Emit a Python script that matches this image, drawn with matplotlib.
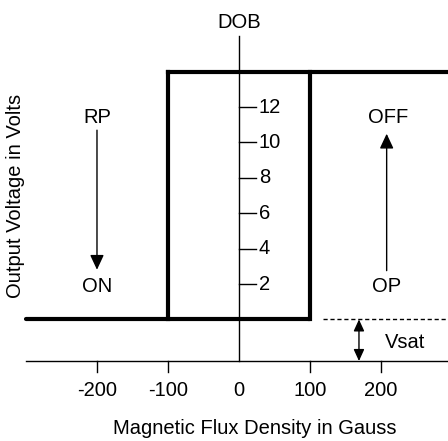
import matplotlib.pyplot as plt

plt.rcParams['font.family'] = ['Liberation Sans', 'DejaVu Sans']

# hysteresis loop (gauss, volts)
low_x = [-300, 100]
high_x = [-100, 300]
low_v = 0
high_v = 14
rp_x, op_x = -100, 100

# axis ticks
x_ticks = [-200, -100, 100, 200]
x_tick_labels = ['-200', '-100', '0', '100', '200']
x_label_pos = [-200, -100, 0, 100, 200]
y_ticks = [2, 4, 6, 8, 10, 12]

axis_v = -2.35
dob_top = 16.0
vsat_x = 169
fs = 14.5


def draw_loop(ax):
    lw = 3.0
    ax.plot(low_x, [low_v, low_v], color='black', lw=lw, solid_capstyle='round')
    ax.plot(high_x, [high_v, high_v], color='black', lw=lw, solid_capstyle='projecting')
    ax.plot([rp_x, rp_x], [low_v, high_v], color='black', lw=lw, solid_capstyle='projecting')
    ax.plot([op_x, op_x], [low_v, high_v], color='black', lw=lw, solid_capstyle='projecting')


def draw_axes(ax):
    # horizontal axis
    ax.plot([-300, 300], [axis_v, axis_v], color='black', lw=1.0)
    for t in x_ticks:
        ax.plot([t, t], [axis_v, axis_v - 0.6], color='black', lw=1.0)
    for x, lab in zip(x_label_pos, x_tick_labels):
        ax.text(x, -4.0, lab, ha='center', va='center', fontsize=fs)
    # DOB vertical line
    ax.plot([0, 0], [axis_v, dob_top], color='black', lw=1.0)
    ax.text(0, 16.8, 'DOB', ha='center', va='center', fontsize=fs)
    for t in y_ticks:
        ax.plot([0, 24], [t, t], color='black', lw=1.0)
        ax.text(28, t, str(t), ha='left', va='center', fontsize=fs)


def draw_labels(ax):
    head = dict(arrowstyle='-|>,head_length=0.9,head_width=0.42', color='black', lw=1.0)
    ax.text(-200, 11.4, 'RP', ha='center', va='center', fontsize=fs)
    ax.annotate('', xy=(-200, 2.65), xytext=(-200, 10.85), arrowprops=head)
    ax.text(-200, 1.85, 'ON', ha='center', va='center', fontsize=fs)

    ax.text(210, 11.4, 'OFF', ha='center', va='center', fontsize=fs)
    ax.annotate('', xy=(208, 10.65), xytext=(208, 2.6), arrowprops=head)
    ax.text(208, 1.85, 'OP', ha='center', va='center', fontsize=fs)

    # Vsat
    ax.plot([118, 300], [low_v, low_v], color='black', lw=1.0, ls=(0, (3, 2)))
    ax.annotate('', xy=(vsat_x, low_v), xytext=(vsat_x, axis_v),
                arrowprops=dict(arrowstyle='<|-|>,head_length=0.7,head_width=0.32',
                                color='black', lw=1.0, shrinkA=0, shrinkB=0))
    ax.text(234, -1.3, 'Vsat', ha='center', va='center', fontsize=fs)

    ax.text(-315, 7.0, 'Output Voltage in Volts', rotation=90,
            ha='center', va='center', fontsize=fs)
    ax.text(22, -6.15, 'Magnetic Flux Density in Gauss',
            ha='center', va='center', fontsize=fs)


if __name__ == '__main__':
    fig = plt.figure(figsize=(4.48, 4.41), dpi=100)
    ax = fig.add_axes([0, 0, 1, 1])
    ax.set_xlim(-336.6, 294.4)
    ax.set_ylim(-6.87, 18.05)
    ax.axis('off')
    draw_loop(ax)
    draw_axes(ax)
    draw_labels(ax)
    fig.savefig('out.png', dpi=100)
